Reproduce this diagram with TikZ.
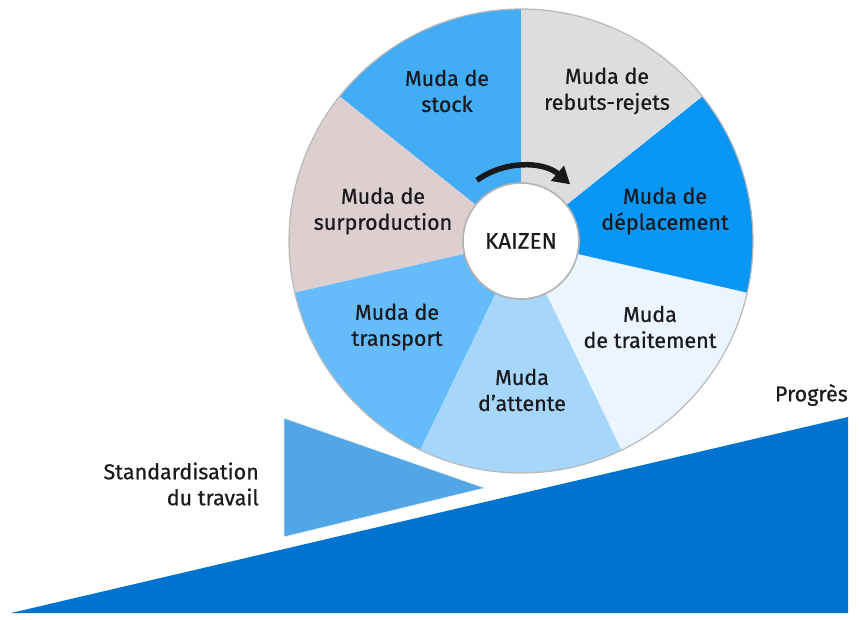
\documentclass[tikz,border=0pt]{standalone}
\usepackage{fontspec}
\setmainfont{Fira Sans}
\newfontfamily\wheelfont{Fira Sans}[FakeBold=0.6]
\usetikzlibrary{arrows.meta,calc}
\definecolor{cstock}{RGB}{66,173,245}
\definecolor{csurprod}{RGB}{221,206,207}
\definecolor{ctransport}{RGB}{102,188,250}
\definecolor{cattente}{RGB}{166,215,250}
\definecolor{ctraite}{RGB}{234,245,255}
\definecolor{cdeplace}{RGB}{10,150,245}
\definecolor{crebuts}{RGB}{221,221,221}
\definecolor{cramp}{RGB}{0,115,209}
\definecolor{cstd}{RGB}{82,166,230}
\definecolor{ctext}{RGB}{25,25,30}
\begin{document}
\begin{tikzpicture}[x=1pt,y=1pt,
  lbl/.style={align=center,text=ctext,font=\wheelfont\fontsize{21.5}{26}\selectfont,inner sep=0pt},
  side/.style={text=ctext,font=\wheelfont\fontsize{21.5}{26}\selectfont,inner sep=0pt}]
\useasboundingbox (0,0) rectangle (859,619);
\coordinate (C) at (521,378);
% wheel sectors, counter-clockwise from the top
\foreach \col [count=\i from 0] in {cstock,csurprod,ctransport,cattente,ctraite,cdeplace,crebuts}{
  \pgfmathsetmacro\a{90+\i*360/7}
  \pgfmathsetmacro\b{90+(\i+1)*360/7}
  \fill[\col] (C) -- ++(\a:232) arc[start angle=\a, end angle=\b, radius=232] -- cycle;
}
\draw[gray!55,line width=1.2] (C) circle[radius=232];
% hub
\node[circle,fill=white,draw=gray!60,line width=1.6,minimum size=116,inner sep=0pt,
  text=ctext,font=\wheelfont\fontsize{22.5}{26}\selectfont] (hub) at (C) {KAIZEN};
% rotation arrow
\draw[line width=5.5,black!90,-{Triangle[length=17,width=19]}]
  ($(C)+(126:75)$) arc[start angle=126, end angle=49, radius=75];
% sector labels
\node[lbl] (stock) at (447,528) {Muda de\\stock};
\node[lbl] (rebuts) at (607,528) {Muda de\\rebuts-rejets};
\node[lbl] (surprod) at (383,408) {Muda de\\surproduction};
\node[lbl] (deplace) at (665,408) {Muda de\\déplacement};
\node[lbl] (transport) at (397,292) {Muda de\\transport};
\node[lbl] (traite) at (650,292) {Muda\\de traitement};
\node[lbl] (attente) at (522,229) {Muda\\d’attente};
% progress slope
\fill[cramp] (11,6) -- (848,202) -- (848,6) -- cycle;
\node[side,anchor=east] (progres) at (848,224) {Progrès};
% standardisation wedge
\fill[cstd] (284,201) -- (485,131) -- (284,82) -- cycle;
\draw[white!85!cstd,line width=0.8] (284,201) -- (485,131) -- (284,82) -- cycle;
\node[side,align=right,anchor=east] (std) at (259,135) {Standardisation\\du travail};
\end{tikzpicture}
\end{document}
